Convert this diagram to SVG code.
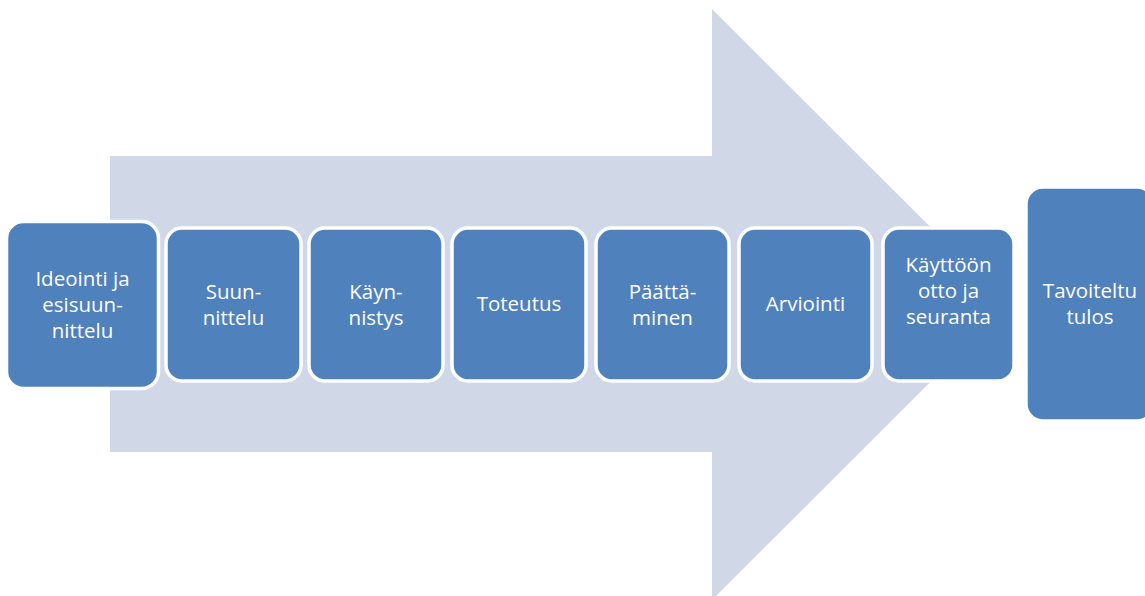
<svg xmlns="http://www.w3.org/2000/svg" width="1145" height="596" viewBox="0 0 1145 596">
  <style>
    .box { fill: #4F81BD; stroke: #FFFFFF; stroke-width: 3.5; }
    .lbl { fill: #FFFFFF; font-family: "Open Sans", "Liberation Sans", sans-serif; font-size: 20.5px; text-anchor: middle; }
  </style>
  <rect width="1145" height="596" fill="#FFFFFF"/>
  <g id="connectors">
    <polygon id="process-arrow" points="110,156 712,156 712,9 1008,304.5 712,600 712,452 110,452" fill="#D0D8E8"/>
  </g>
  <g id="node-ideointi">
    <rect class="box" x="6.5" y="221.5" width="152" height="167" rx="17"/>
    <text class="lbl" x="82.5" y="286">Ideointi ja</text>
    <text class="lbl" x="82.5" y="312">esisuun-</text>
    <text class="lbl" x="82.5" y="338">nittelu</text>
  </g>
  <g id="node-suunnittelu">
    <rect class="box" x="166" y="228" width="135" height="153" rx="16"/>
    <text class="lbl" x="233.5" y="299">Suun-</text>
    <text class="lbl" x="233.5" y="325">nittelu</text>
  </g>
  <g id="node-kaynnistys">
    <rect class="box" x="309" y="228" width="134" height="153" rx="16"/>
    <text class="lbl" x="376" y="299">Käyn-</text>
    <text class="lbl" x="376" y="325">nistys</text>
  </g>
  <g id="node-toteutus">
    <rect class="box" x="452" y="228" width="134" height="153" rx="16"/>
    <text class="lbl" x="519" y="311">Toteutus</text>
  </g>
  <g id="node-paattaminen">
    <rect class="box" x="596" y="228" width="133" height="153" rx="16"/>
    <text class="lbl" x="662.5" y="299">Päättä-</text>
    <text class="lbl" x="662.5" y="325">minen</text>
  </g>
  <g id="node-arviointi">
    <rect class="box" x="739" y="228" width="133" height="153" rx="16"/>
    <text class="lbl" x="805.5" y="311">Arviointi</text>
  </g>
  <g id="node-kayttoonotto">
    <rect class="box" x="883" y="228" width="131" height="153" rx="16"/>
    <text class="lbl" x="948.5" y="272">Käyttöön</text>
    <text class="lbl" x="948.5" y="298">otto ja</text>
    <text class="lbl" x="948.5" y="324">seuranta</text>
  </g>
  <g id="node-tavoiteltu">
    <rect class="box" x="1026" y="187" width="128" height="234" rx="17"/>
    <text class="lbl" x="1090" y="298">Tavoiteltu</text>
    <text class="lbl" x="1090" y="324">tulos</text>
  </g>
</svg>
